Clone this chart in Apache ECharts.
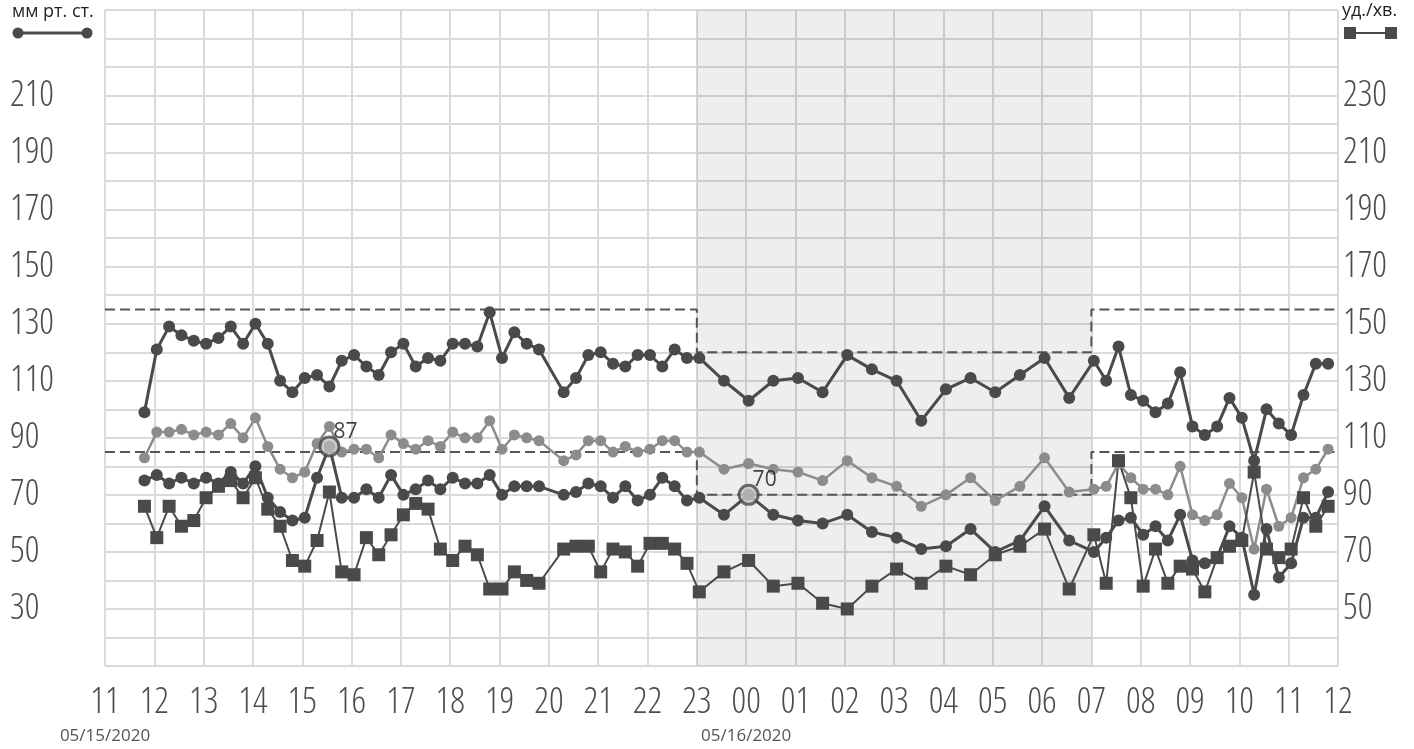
<!DOCTYPE html>
<html>
<head>
<meta charset="utf-8">
<script src="https://cdn.jsdelivr.net/npm/echarts@6/dist/echarts.min.js"></script>
<style>
html,body{margin:0;padding:0;background:#fff;}
#chart{width:1414px;height:749px;}
</style>
</head>
<body>
<div id="chart"></div>
<script>
// ---- measurement times (05/15/2020 11:48 -> 05/16/2020 11:48)
const times = [
 '11:48','12:03','12:18','12:33','12:48','13:03','13:18','13:33','13:48','14:03','14:18','14:33','14:48',
 '15:03','15:18','15:33','15:48','16:03','16:18','16:33','16:48','17:03','17:18','17:33','17:48',
 '18:03','18:18','18:33','18:48','19:03','19:18','19:33','19:48','20:18','20:33','20:48',
 '21:03','21:18','21:33','21:48','22:03','22:18','22:33','22:48','23:03',
 '23:33','00:03','00:33','01:03','01:33','02:03','02:33','03:03','03:33','04:03','04:33','05:03','05:33','06:03','06:33','07:03',
 '07:18','07:33','07:48','08:03','08:18','08:33','08:48','09:03','09:18','09:33','09:48','10:03','10:18','10:33','10:48','11:03','11:18','11:33','11:48'
];
// systolic, mm Hg
const systolic = [
 99,121,129,126,124,123,125,129,123,130,123,110,106,111,112,108,117,119,115,112,120,123,115,118,117,
 123,123,122,134,118,127,123,121,106,111,119,120,116,115,119,119,115,121,118,118,
 110,103,110,111,106,119,114,110,96,107,111,106,112,118,104,117,
 110,122,105,103,99,102,113,94,91,94,104,97,82,100,95,91,105,116,116
];
// mean arterial pressure, mm Hg
const meanPressure = [
 83,92,92,93,91,92,91,95,90,97,87,79,76,78,88,94,85,86,86,83,91,88,86,89,87,
 92,90,90,96,86,91,90,89,82,84,89,89,85,87,85,86,89,89,85,85,
 79,81,79,78,75,82,76,73,66,70,76,68,73,83,71,72,
 73,81,76,72,72,70,80,63,61,63,74,69,51,72,59,62,76,79,86
];
// diastolic, mm Hg
const diastolic = [
 75,77,74,76,74,76,74,78,74,80,69,64,61,62,76,87,69,69,72,69,77,70,72,75,72,
 76,74,74,77,70,73,73,73,70,71,74,73,69,73,68,70,76,73,68,69,
 63,70,63,61,60,63,57,55,51,52,58,50,54,66,54,50,
 55,61,62,56,59,54,63,47,46,48,59,55,35,58,41,46,62,62,71
];
// heart rate, beats/min
const heartRate = [
 86,75,86,79,81,89,93,95,89,96,85,79,67,65,74,91,63,62,75,69,76,83,87,85,71,
 67,72,69,57,57,63,60,59,71,72,72,63,71,70,65,73,73,71,66,56,
 63,67,58,59,52,50,58,64,59,65,62,69,72,78,57,76,
 59,102,89,58,71,59,65,64,56,68,72,74,98,71,68,71,89,79,86
];
// highlighted diastolic points
const highlightTimes = ['15:33','00:03'];
// day / night periods and limits
const periodBounds = ['11:00','23:00','07:00','12:00'];
const systolicLimits = [135,120,135];
const diastolicLimits = [85,70,85];
const nightPeriodIndex = 1;
// axis texts
const hourLabels = ['11','12','13','14','15','16','17','18','19','20','21','22','23','00','01','02','03','04','05','06','07','08','09','10','11','12'];
const dateLabels = ['05/15/2020','05/16/2020'];
const dateLabelTicks = [0,13];
const leftAxisLabels = [30,50,70,90,110,130,150,170,190,210];
const rightAxisLabels = [50,70,90,110,130,150,170,190,210,230];
const leftUnit = 'мм рт. ст.';
const rightUnit = 'уд./хв.';

function toHours(list){
  let day = 0, prev = null;
  return list.map(t => {
    const [H, M] = t.split(':').map(Number);
    let h = H + M/60 - 11 + day*24;
    if (prev !== null && h < prev) { day++; h += 24; }
    prev = h;
    return +h.toFixed(4);
  });
}
const xs = toHours(times);
const bounds = toHours(periodBounds);
const pair = arr => xs.map((x,i) => [x, arr[i]]);
function stepLine(lims){
  const d = [];
  lims.forEach((v,i) => { d.push([bounds[i], v]); d.push([bounds[i+1], v]); });
  return d;
}
const hlData = highlightTimes.map(t => { const i = times.indexOf(t); return [xs[i], diastolic[i]]; });

// pick a condensed light face for the big tick numbers if the installed font supports it
function pickBigFont(){
  const c = document.createElement('canvas').getContext('2d');
  c.font = "300 36px 'Open Sans'";
  const w1 = c.measureText('210').width;
  c.font = "300 condensed 36px 'Open Sans'";
  const w2 = c.measureText('210').width;
  if (w2 < w1 * 0.95) return {weight:'300 condensed', size:36};
  return {weight:'300', size:32};
}
const big = pickBigFont();

const DARK = '#4a4a4a';
const BIGFAMILY = "'Open Sans', sans-serif";
const chart = echarts.init(document.getElementById('chart'), null, {renderer:'canvas'});
const gridColor = '#dadada';
const bigLabel = {color:'#4d4d4d', fontFamily:BIGFAMILY, fontSize:big.size, fontWeight:big.weight};

const option = {
  animation: false,
  backgroundColor: '#ffffff',
  grid: {left:105, right:76, top:10, bottom:83, containLabel:false},
  xAxis: [
    {
      type:'value', min:0, max:25, interval:1,
      axisLine:{show:false}, axisTick:{show:false},
      splitLine:{show:true, lineStyle:{color:gridColor, width:2}},
      axisLabel: Object.assign({}, bigLabel, {
        margin:19, lineHeight:36, showMinLabel:true, showMaxLabel:true, hideOverlap:false,
        formatter: v => hourLabels[Math.round(v)]
      })
    },
    {
      type:'value', min:0, max:25, interval:1, position:'bottom',
      axisLine:{show:false}, axisTick:{show:false}, splitLine:{show:false},
      axisLabel:{
        margin:62, showMinLabel:true, showMaxLabel:true, hideOverlap:false,
        fontFamily:"'Open Sans', sans-serif", fontSize:17, lineHeight:17, color:'#555555',
        formatter: v => { const di = dateLabelTicks.indexOf(Math.round(v)); return di >= 0 ? dateLabels[di] : ''; }
      }
    }
  ],
  yAxis: [
    {
      type:'value', min:10, max:240, interval:10, position:'left',
      axisLine:{show:false}, axisTick:{show:false},
      splitLine:{show:true, lineStyle:{color:gridColor, width:2}},
      axisLabel: Object.assign({}, bigLabel, {
        margin:95, align:'left', padding:[13,0,0,0],
        formatter: v => leftAxisLabels.includes(v) ? String(v) : ''
      })
    },
    {
      type:'value', min:30, max:260, interval:10, position:'right',
      axisLine:{show:false}, axisTick:{show:false}, splitLine:{show:false},
      axisLabel: Object.assign({}, bigLabel, {
        margin:5, align:'left', padding:[13,0,0,0],
        formatter: v => rightAxisLabels.includes(v) ? String(v) : ''
      })
    }
  ],
  series: [
    {
      name:'sysLimit', type:'line', data:stepLine(systolicLimits), symbol:'none', silent:true,
      lineStyle:{color:'#555555', width:2, type:[10,5]},
      markArea:{ silent:true, itemStyle:{color:'rgba(0,0,0,0.065)'},
        data:[[{xAxis:bounds[nightPeriodIndex]},{xAxis:bounds[nightPeriodIndex+1]}]] }
    },
    {
      name:'diaLimit', type:'line', data:stepLine(diastolicLimits), symbol:'none', silent:true,
      lineStyle:{color:'#555555', width:2, type:[10,5]}
    },
    {
      name:'mean', type:'line', data:pair(meanPressure), symbol:'circle', symbolSize:11,
      showAllSymbol:true, color:'#8c8c8c', lineStyle:{width:2.5, color:'#8c8c8c'},
      itemStyle:{color:'#8c8c8c'}, emphasis:{disabled:true}
    },
    {
      name:'systolic', type:'line', data:pair(systolic), symbol:'circle', symbolSize:12,
      showAllSymbol:true, color:DARK, lineStyle:{width:3, color:DARK},
      itemStyle:{color:DARK}, emphasis:{disabled:true}
    },
    {
      name:'diastolic', type:'line', data:pair(diastolic), symbol:'circle', symbolSize:12,
      showAllSymbol:true, color:DARK, lineStyle:{width:3, color:DARK},
      itemStyle:{color:DARK}, emphasis:{disabled:true}
    },
    {
      name:'hr', type:'line', yAxisIndex:1, data:pair(heartRate), symbol:'rect', symbolSize:13,
      showAllSymbol:true, color:DARK, lineStyle:{width:2, color:DARK},
      itemStyle:{color:DARK}, emphasis:{disabled:true}
    },
    {
      name:'highlight', type:'scatter', data:hlData, symbol:'circle', symbolSize:19,
      itemStyle:{color:'#c8c8c8', borderColor:DARK, borderWidth:3},
      label:{show:true, position:'top', distance:5, offset:[16,12],
        formatter: p => String(p.value[1]),
        fontFamily:"'Open Sans', sans-serif", fontSize:21, color:'#111111'},
      emphasis:{disabled:true}, z:5
    }
  ],
  graphic: [
    {type:'text', left:12, top:3, style:{text:leftUnit, font:"18px 'Open Sans', sans-serif", fill:'#222222'}},
    {type:'line', shape:{x1:18,y1:33,x2:87,y2:33}, style:{stroke:DARK, lineWidth:3}},
    {type:'circle', shape:{cx:18,cy:33,r:5.5}, style:{fill:DARK}},
    {type:'circle', shape:{cx:87,cy:33,r:5.5}, style:{fill:DARK}},
    {type:'text', left:1342, top:2, style:{text:rightUnit, font:"18px 'Open Sans', sans-serif", fill:'#222222'}},
    {type:'line', shape:{x1:1350,y1:33,x2:1391,y2:33}, style:{stroke:DARK, lineWidth:2}},
    {type:'rect', shape:{x:1344,y:27,width:12,height:12}, style:{fill:DARK}},
    {type:'rect', shape:{x:1385,y:27,width:12,height:12}, style:{fill:DARK}}
  ]
};
chart.setOption(option);
</script>
</body>
</html>
